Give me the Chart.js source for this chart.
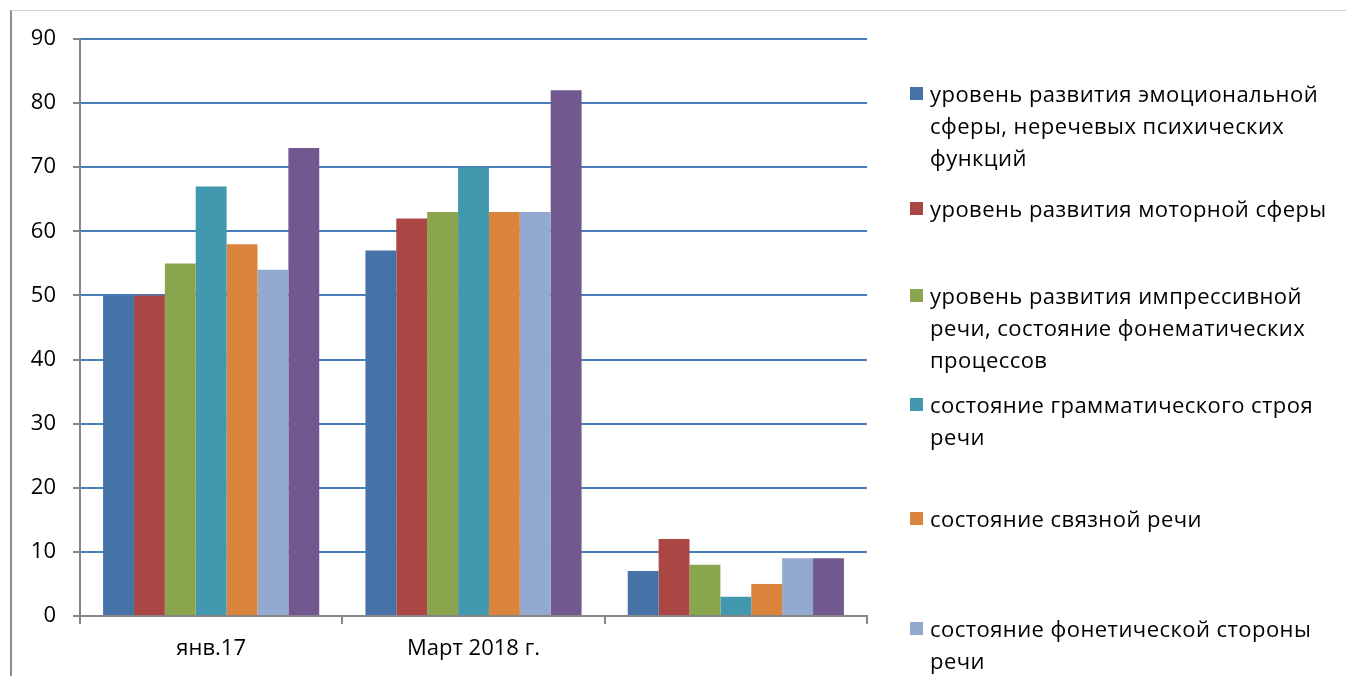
<!DOCTYPE html>
<html>
<head>
<meta charset="utf-8">
<script src="https://cdn.jsdelivr.net/npm/chart.js@4.4.1/dist/chart.umd.min.js"></script>
<style>
  html, body { margin: 0; padding: 0; width: 1346px; height: 676px; overflow: hidden; background: #fff; }
  #frame { position: absolute; left: 10px; top: 10px; right: 0; bottom: 0;
           border-left: 2px solid #8c8c8c; border-top: 1px solid #d4d4d4; }
  #chart { position: absolute; left: 0; top: 0; }
  #legend { position: absolute; left: 0; top: 0; width: 1346px; font-family: "Open Sans"; font-size: 22px;
            letter-spacing: 0.45px; color: #000; }
  .item { position: absolute; left: 930px; white-space: pre; line-height: 32px; }
  .box { position: absolute; left: -20px; top: 10px; width: 13px; height: 13px; }
</style>
</head>
<body>
<div id="frame"></div>
<canvas id="chart" width="1346" height="676"></canvas>
<div id="legend"></div>
<script>
// categories (third one has no caption in the original)
var labels = ["янв.17", "Март 2018 г.", ""];

// legend texts, \n = line break as in the picture
var seriesNames = [
  "уровень развития эмоциональной\nсферы, неречевых психических\nфункций",
  "уровень развития моторной сферы",
  "уровень развития импрессивной\nречи, состояние фонематических\nпроцессов",
  "состояние грамматического строя\nречи",
  "состояние связной речи",
  "состояние фонетической стороны\nречи",
  "Ряд7"
];
var seriesColors = ["#4572A7", "#AA4643", "#89A54E", "#4198AF", "#DB843D", "#93A9CF", "#71588F"];

// values per series, one per category
var emotional  = [50, 57, 7];
var motor      = [50, 62, 12];
var impressive = [55, 63, 8];
var grammar    = [67, 70, 3];
var coherent   = [58, 63, 5];
var phonetic   = [54, 63, 9];
var series7    = [73, 82, 9];

var yTicks = [0, 10, 20, 30, 40, 50, 60, 70, 80, 90];

// vertical position (first line centre) of each legend entry
var legendTops = [93, 208, 295, 404, 518, 628, 740];

var allSeries = [emotional, motor, impressive, grammar, coherent, phonetic, series7];
var font = { family: "Open Sans", size: 22 };

var datasets = [];
for (var i = 0; i < allSeries.length; i++) {
  datasets.push({
    label: seriesNames[i].replace(/\n/g, " "),
    data: allSeries[i],
    backgroundColor: seriesColors[i],
    borderWidth: 0,
    categoryPercentage: 0.824,
    barPercentage: 1.0
  });
}

var chart = new Chart(document.getElementById("chart").getContext("2d"), {
  type: "bar",
  data: { labels: labels, datasets: datasets },
  options: {
    responsive: false,
    animation: false,
    layout: { padding: { left: 0, top: 39, right: 479, bottom: 0 } },
    plugins: { legend: { display: false }, tooltip: { enabled: false } },
    scales: {
      x: {
        grid: { drawOnChartArea: false, color: "#868686", tickColor: "#868686", tickLength: 8, lineWidth: 2 },
        border: { color: "#868686", width: 2 },
        ticks: { color: "#000", font: font, padding: 12, maxRotation: 0 },
        afterFit: function (s) { s.height = 60; }
      },
      y: {
        min: yTicks[0],
        max: yTicks[yTicks.length - 1],
        ticks: { stepSize: 10, color: "#000", font: font, padding: 17 },
        grid: {
          color: function (c) { return c.tick && c.tick.value === 0 ? "rgba(0,0,0,0)" : "#4A7EBB"; },
          lineWidth: 2, tickColor: "#868686", tickLength: 7
        },
        border: { color: "#868686", width: 2 },
        afterFit: function (s) { s.width = 80; }
      }
    }
  }
});

// legend on the right, built from the same names and colours
var legend = document.getElementById("legend");
for (var k = 0; k < seriesNames.length; k++) {
  var item = document.createElement("div");
  item.className = "item";
  item.style.top = (legendTops[k] - 16) + "px";
  item.textContent = seriesNames[k];
  var box = document.createElement("span");
  box.className = "box";
  box.style.background = seriesColors[k];
  item.appendChild(box);
  legend.appendChild(item);
}
</script>
</body>
</html>
